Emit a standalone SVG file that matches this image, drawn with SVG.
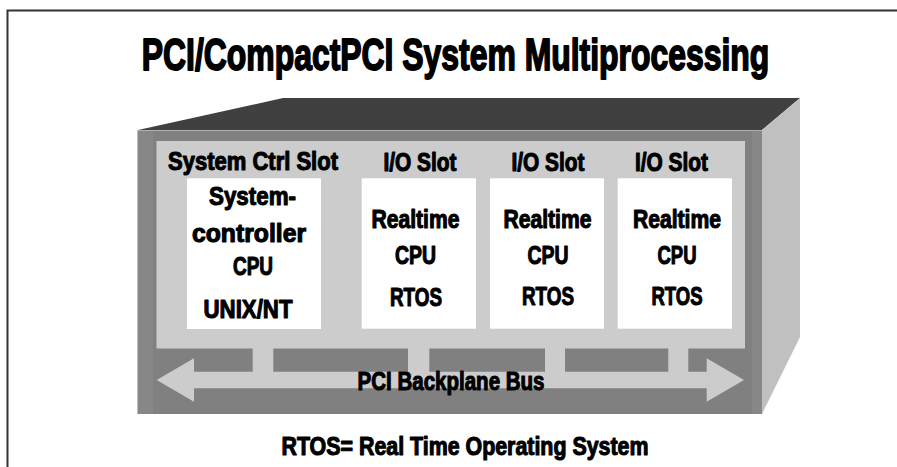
<svg xmlns="http://www.w3.org/2000/svg" width="897" height="467" viewBox="0 0 897 467">
<style>
.t{font-family:"Liberation Sans",Arial,sans-serif;font-weight:bold;fill:#000;stroke:#000;stroke-width:1.1px;stroke-linejoin:round;text-anchor:middle}
.s{font-size:25px}
.slot{fill:#fff}
.pan{fill:#cccccc}
</style>
<rect x="0" y="0" width="897" height="467" fill="#fff"/>
<path d="M7.5 467 V10.5 H897" fill="none" stroke="#333" stroke-width="2"/>
<text class="t" x="0" y="0" font-size="45" style="stroke-width:1.8px" transform="translate(455.5,70) scale(0.709,1)">PCI/CompactPCI System Multiprocessing</text>
<g id="chassis">
<polygon points="138,130 283,98 800,98 762,130" fill="#404040"/>
<polygon points="762,130 800,98 800,337 762,414" fill="#c0c0c0"/>
<rect x="137.5" y="130" width="624.5" height="284" fill="#808080"/>
<rect x="138" y="131" width="15" height="283" fill="#878787"/>
<rect x="752" y="131" width="10" height="283" fill="#878787"/>
<line x1="138" y1="130.5" x2="762" y2="130.5" stroke="#b0b0b0" stroke-width="1"/>
<rect class="pan" x="156.5" y="141" width="588.5" height="207.5"/>
</g>
<g id="slot1">
<text class="t s" x="253" y="170" textLength="170" lengthAdjust="spacingAndGlyphs">System Ctrl Slot</text>
<rect class="slot" x="187" y="178.3" width="134" height="150.7"/>
<text class="t s" x="252.5" y="205" textLength="87" lengthAdjust="spacingAndGlyphs">System-</text>
<text class="t s" x="249" y="241.5" textLength="114" lengthAdjust="spacingAndGlyphs">controller</text>
<text class="t s" x="253" y="275" textLength="40" lengthAdjust="spacingAndGlyphs">CPU</text>
<text class="t s" x="248" y="318" textLength="89" lengthAdjust="spacingAndGlyphs">UNIX/NT</text>
</g>
<g id="slot2">
<text class="t s" x="420" y="170.5" textLength="73" lengthAdjust="spacingAndGlyphs">I/O Slot</text>
<rect class="slot" x="361.7" y="178.3" width="114.3" height="150.4"/>
<text class="t s" x="415.5" y="228" textLength="88" lengthAdjust="spacingAndGlyphs">Realtime</text>
<text class="t s" x="415.5" y="264" textLength="41" lengthAdjust="spacingAndGlyphs">CPU</text>
<text class="t s" x="416" y="306" textLength="52" lengthAdjust="spacingAndGlyphs">RTOS</text>
</g>
<g id="slot3">
<text class="t s" x="548" y="170.5" textLength="73" lengthAdjust="spacingAndGlyphs">I/O Slot</text>
<rect class="slot" x="490" y="178.3" width="114" height="150.4"/>
<text class="t s" x="547.5" y="228" textLength="88" lengthAdjust="spacingAndGlyphs">Realtime</text>
<text class="t s" x="548" y="264" textLength="41" lengthAdjust="spacingAndGlyphs">CPU</text>
<text class="t s" x="548" y="305" textLength="52" lengthAdjust="spacingAndGlyphs">RTOS</text>
</g>
<g id="slot4">
<text class="t s" x="671.5" y="170.5" textLength="73" lengthAdjust="spacingAndGlyphs">I/O Slot</text>
<rect class="slot" x="617.7" y="178.3" width="114.3" height="150.4"/>
<text class="t s" x="677" y="228" textLength="88" lengthAdjust="spacingAndGlyphs">Realtime</text>
<text class="t s" x="677" y="264" textLength="39" lengthAdjust="spacingAndGlyphs">CPU</text>
<text class="t s" x="677" y="305" textLength="51" lengthAdjust="spacingAndGlyphs">RTOS</text>
</g>
<g id="connectors">
<rect class="pan" x="252.7" y="347" width="20.6" height="26"/>
<rect class="pan" x="408" y="347" width="21.3" height="26"/>
<rect class="pan" x="545" y="347" width="20" height="26"/>
<rect class="pan" x="668.3" y="347" width="20" height="26"/>
<polygon class="pan" points="156.7,380 194,358.3 194,371.7 706.7,371.7 706.7,358.3 744,380 706.7,401.7 706.7,388.3 194,388.3 194,401.7"/>
</g>
<g id="bus-label">
<text class="t s" x="451" y="390" textLength="187" lengthAdjust="spacingAndGlyphs">PCI Backplane Bus</text>
</g>
<text class="t s" x="465" y="455" textLength="367" lengthAdjust="spacingAndGlyphs">RTOS= Real Time Operating System</text>
</svg>
